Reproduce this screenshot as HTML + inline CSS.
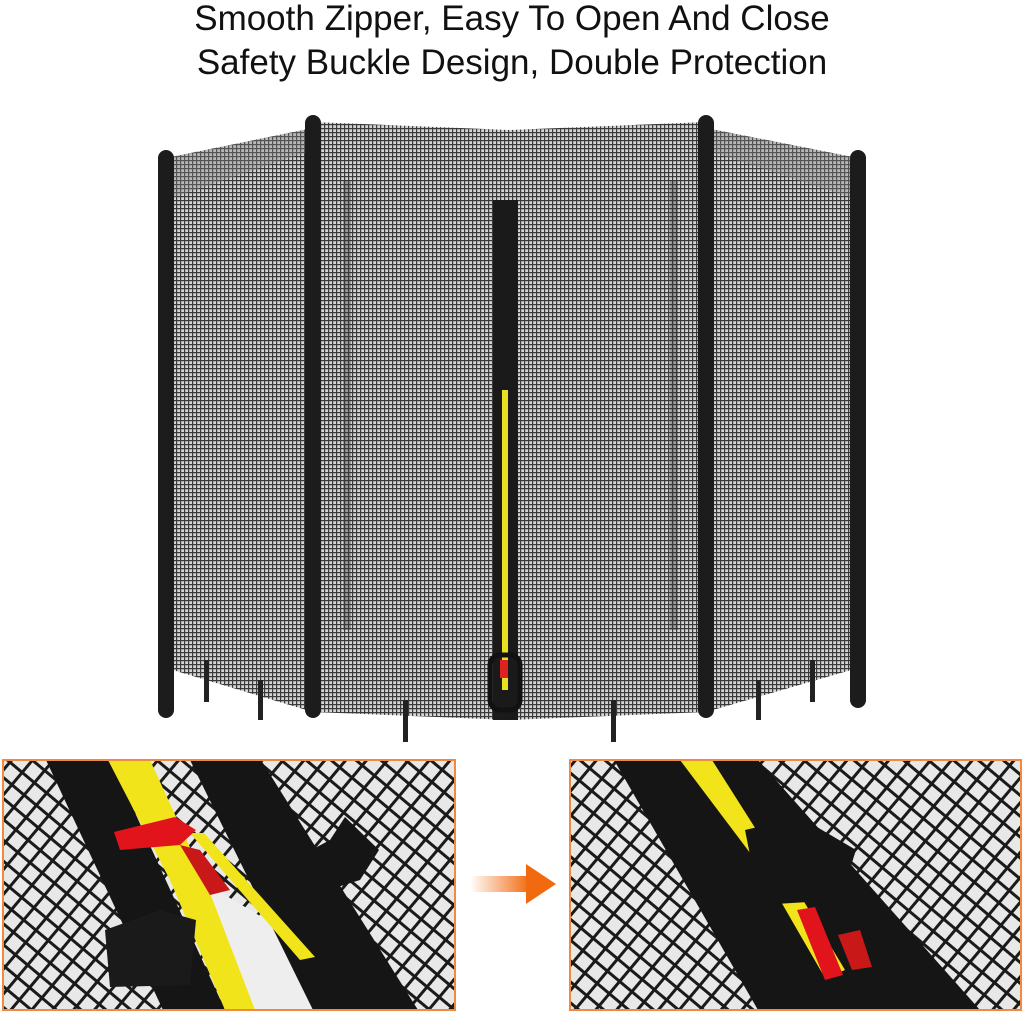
<!DOCTYPE html>
<html><head><style>
body{margin:0;width:1024px;height:1013px;background:#fff;overflow:hidden;font-family:"Liberation Sans",sans-serif}
.t{position:absolute;left:0;width:1024px;text-align:center;font-size:35px;color:#111}
svg{position:absolute;left:0;top:0}
</style></head><body>
<svg width="1024" height="1013">
<defs>
<pattern id="m" width="4" height="4" patternUnits="userSpaceOnUse">
<rect width="4" height="4" fill="#d4d4d4"/><rect width="4" height="1.2" fill="#3a3a3a"/><rect width="1.2" height="4" fill="#3a3a3a"/>
</pattern>
<pattern id="b" width="16" height="16" patternUnits="userSpaceOnUse" patternTransform="rotate(40)">
<rect width="16" height="16" fill="#e8e8e8"/><rect width="16" height="3" fill="#1a1a1a"/><rect width="3" height="16" fill="#1a1a1a"/>
</pattern>
<linearGradient id="ar" x1="0" x2="1"><stop offset="0" stop-color="#fff"/><stop offset="1" stop-color="#f26a10"/></linearGradient>
</defs>
<polygon points="166,158 313,128 313,712 166,668" fill="url(#m)"/>
<polygon points="313,122 510,130 706,122 706,712 510,720 313,712" fill="url(#m)"/>
<polygon points="706,128 858,158 858,668 706,712" fill="url(#m)"/>
<polygon points="166,158 313,128 313,150 166,200" fill="#888" opacity=".35"/>
<polygon points="706,128 858,158 858,200 706,150" fill="#888" opacity=".35"/>
<rect x="343" y="180" width="8" height="450" fill="#333" opacity=".35"/>
<rect x="670" y="180" width="8" height="450" fill="#333" opacity=".35"/>
<rect x="158" y="150" width="16" height="568" rx="8" fill="#1c1c1c"/>
<rect x="305" y="115" width="16" height="603" rx="8" fill="#1c1c1c"/>
<rect x="698" y="115" width="16" height="603" rx="8" fill="#1c1c1c"/>
<rect x="850" y="150" width="16" height="558" rx="8" fill="#1c1c1c"/>
<rect x="493" y="200" width="25" height="520" fill="#1a1a1a"/>
<rect x="502" y="390" width="6" height="300" fill="#e8e020"/>
<rect x="490" y="655" width="30" height="55" rx="10" fill="none" stroke="#111" stroke-width="5"/>
<rect x="500" y="660" width="8" height="18" fill="#d22"/>
<g fill="#222">
<rect x="204" y="660" width="5" height="42"/><rect x="258" y="680" width="5" height="40"/>
<rect x="403" y="700" width="5" height="42"/><rect x="611" y="700" width="5" height="42"/>
<rect x="756" y="680" width="5" height="40"/><rect x="810" y="660" width="5" height="42"/>
</g>
<rect x="3" y="760" width="452" height="250" fill="url(#b)"/>
<polygon points="200,880 300,940 330,1010 240,1010" fill="#eee"/>
<polygon points="46,760 111,760 225,1010 163,1010" fill="#151515"/>
<polygon points="108,760 150,760 205,880 255,1010 225,1010 170,880" fill="#f2e41a"/>
<polygon points="190,760 261,760 418,1010 313,1010" fill="#151515"/>
<polygon points="190,833 204,833 315,957 300,960" fill="#f2e41a"/>
<polygon points="114,832 175,817 196,830 180,845 120,850" fill="#e0141a"/>
<polygon points="180,845 200,850 230,890 210,895" fill="#c81818"/>
<polygon points="255,880 330,840 345,817 379,850 360,880 280,905" fill="#151515"/>
<polygon points="105,930 160,910 196,920 190,985 110,987" fill="#1a1a1a"/>
<rect x="3" y="760" width="452" height="250" fill="none" stroke="#f08a40" stroke-width="2"/>
<rect x="470" y="876" width="60" height="16" fill="url(#ar)"/>
<polygon points="526,864 556,884 526,904" fill="#f26a10"/>
<rect x="570" y="760" width="451" height="250" fill="url(#b)"/>
<polygon points="614,760 758,760 980,1010 758,1010" fill="#151515"/>
<polygon points="680,760 712,760 790,883 778,890" fill="#f2e41a"/>
<polygon points="780,900 800,895 845,970 825,978" fill="#f2e41a"/>
<polygon points="745,830 800,817 856,850 840,900 760,905" fill="#151515"/>
<polygon points="797,910 815,907 843,975 825,980" fill="#e0141a"/>
<polygon points="838,935 860,930 872,967 852,970" fill="#c81818"/>
<rect x="570" y="760" width="451" height="250" fill="none" stroke="#f08a40" stroke-width="2"/>
</svg>
<div class="t" style="top:-1px">Smooth Zipper, Easy To Open And Close</div>
<div class="t" style="top:43px">Safety Buckle Design, Double Protection</div>
</body></html>
